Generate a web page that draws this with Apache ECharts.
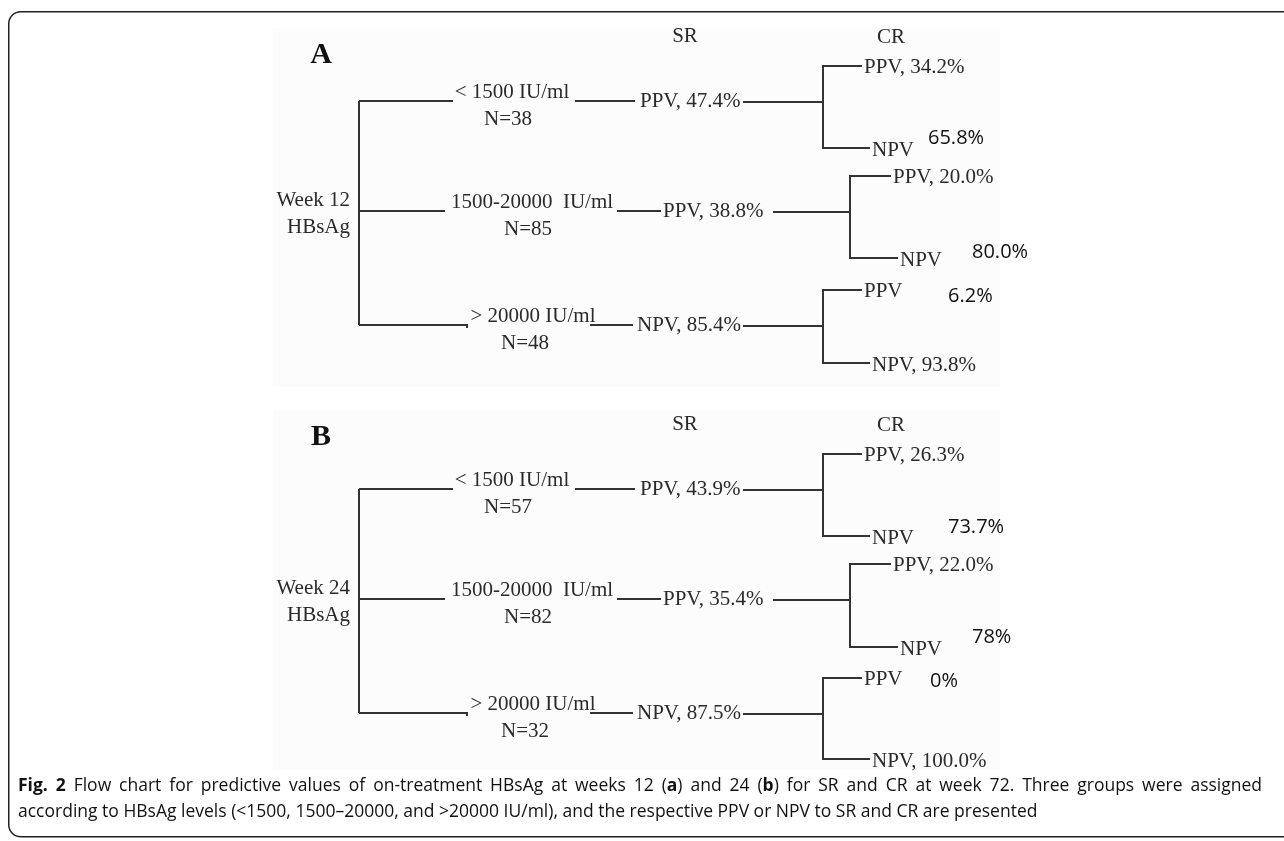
<!DOCTYPE html>
<html>
<head>
<meta charset="utf-8">
<title>Fig. 2 HBsAg flow chart</title>
<script src="https://cdn.jsdelivr.net/npm/echarts@6/dist/echarts.min.js"></script>
<style>
  html, body { margin: 0; padding: 0; background: #fff; }
  #chart { width: 1284px; height: 841px; }
</style>
</head>
<body>
<div id="chart"></div>
<script>
// ---- data ----
const panelLetters = ['A', 'B'];
const timepoints = ['Week 12', 'Week 24'];
const levels = ['< 1500 IU/ml', '1500-20000  IU/ml', '> 20000 IU/ml'];
const nWeek12 = [38, 85, 48];
const nWeek24 = [57, 82, 32];
const srKind = ['PPV', 'PPV', 'NPV'];
const srWeek12 = ['47.4%', '38.8%', '85.4%'];
const srWeek24 = ['43.9%', '35.4%', '87.5%'];
const crPpvWeek12 = ['34.2%', '20.0%', '6.2%'];
const crNpvWeek12 = ['65.8%', '80.0%', '93.8%'];
const crPpvWeek24 = ['26.3%', '22.0%', '0%'];
const crNpvWeek24 = ['73.7%', '78%', '100.0%'];
// which CR value was typed in afterwards as a separate label (0 = PPV, 1 = NPV)
const crPasted = [1, 1, 0];

const captionLines = [
  '{b|Fig.} {b|2} Flow chart for predictive values of on-treatment HBsAg at weeks 12 ({b|a}) and 24 ({b|b}) for SR and CR at week 72. Three groups were assigned',
  'according to HBsAg levels (<1500, 1500\u201320000, and >20000 IU/ml), and the respective PPV or NPV to SR and CR are presented'
];

// ---- layout (axis units = pixels) ----
const panelTop = [0, 388];
const letterY = [55, 49];
const rowY = [101, 211, 325];
const rootX = 359;
const rootEnd = [453, 445, 467];
const levelX = [512, 532, 533];
const nX = [508, 528, 525];
const linkX = [[575, 635], [617, 661], [590, 633]];
const srX = [640, 663, 637];
const srLineX = [743, 773, 743];
const crX = [823, 850, 823];
const crUp = 35;
const crDown = [[47, 47, 38], [47, 48, 46]];
const tipPpv = [862, 891, 862];
const tipNpv = [870, 898, 870];
const pastedX = [[928, 972, 948], [948, 972, 930]];
const pastedDy = [[-10, -6, 6], [-9, -10, 3]];

const SERIF = '"Liberation Serif", "Times New Roman", serif';
const SANS = '"Open Sans", "Noto Sans", sans-serif';
const INK = '#2a2a2a';
const CAP_SIZE = 17.5;

const edges = [];
const labels = [];
function text(x, y, str, opt) {
  labels.push(Object.assign({ x: x, y: y, text: str, align: 'left', font: '21px ' + SERIF, fill: INK }, opt || {}));
}

panelLetters.forEach(function (letter, p) {
  const top = panelTop[p];
  const n = p === 0 ? nWeek12 : nWeek24;
  const sr = p === 0 ? srWeek12 : srWeek24;
  const ppv = p === 0 ? crPpvWeek12 : crPpvWeek24;
  const npv = p === 0 ? crNpvWeek12 : crNpvWeek24;

  text(321, top + letterY[p], letter, { align: 'center', font: 'bold 30px ' + SERIF, fill: '#111' });
  text(685, top + 36, 'SR', { align: 'center' });
  text(891, top + 37, 'CR', { align: 'center' });

  edges.push([[rootX, top + rowY[0]], [rootX, top + rowY[2]]]);
  text(rootX - 9, top + rowY[1] - 11, timepoints[p], { align: 'right' });
  text(rootX - 9, top + rowY[1] + 16, 'HBsAg', { align: 'right' });

  levels.forEach(function (lvl, i) {
    const y = top + rowY[i];
    if (i === 2) {
      edges.push([[rootX, y], [rootEnd[i], y], [rootEnd[i], y + 3]]);
    } else {
      edges.push([[rootX, y], [rootEnd[i], y]]);
    }
    text(levelX[i], y - 9, lvl, { align: 'center' });
    text(nX[i], y + 18, 'N=' + n[i], { align: 'center' });
    edges.push([[linkX[i][0], y], [linkX[i][1], y]]);
    text(srX[i], y, srKind[i] + ', ' + sr[i]);
    edges.push([[srLineX[i], y + 1], [crX[i], y + 1]]);

    const yUp = y - crUp;
    const yDown = y + crDown[p][i];
    edges.push([[tipPpv[i], yUp], [crX[i], yUp], [crX[i], yDown], [tipNpv[i], yDown]]);

    const pasted = { font: '20px ' + SANS, fill: '#111' };
    if (crPasted[i] === 0) {
      text(tipPpv[i] + 2, yUp + 1, 'PPV');
      text(pastedX[p][i], yUp + pastedDy[p][i], ppv[i], pasted);
      text(tipNpv[i] + 2, yDown + 2, 'NPV, ' + npv[i]);
    } else {
      text(tipPpv[i] + 2, yUp + 1, 'PPV, ' + ppv[i]);
      text(tipNpv[i] + 2, yDown + 2, 'NPV');
      text(pastedX[p][i], yDown + pastedDy[p][i], npv[i], pasted);
    }
  });
});

// caption: first line justified to the box width, last line left aligned
const measureCtx = document.createElement('canvas').getContext('2d');
function wordWidth(word) {
  let w = 0;
  word.replace(/\{b\|([^}]*)\}|([^{]+)/g, function (m, bold, plain) {
    const isBold = bold !== undefined;
    measureCtx.font = (isBold ? 'bold ' : '') + CAP_SIZE + 'px ' + SANS;
    w += measureCtx.measureText(isBold ? bold : plain).width;
    return m;
  });
  return w;
}
const captionGraphics = [];
const captionLeft = 18, captionRight = 1262, captionY = [786, 812];
captionLines.forEach(function (line, li) {
  const words = line.split(' ');
  const widths = words.map(wordWidth);
  const total = widths.reduce(function (a, b) { return a + b; }, 0);
  measureCtx.font = CAP_SIZE + 'px ' + SANS;
  let gap = measureCtx.measureText(' ').width;
  if (li < captionLines.length - 1) gap = (captionRight - captionLeft - total) / (words.length - 1);
  let x = captionLeft;
  words.forEach(function (w, wi) {
    captionGraphics.push({
      type: 'text', x: x, y: captionY[li], z: 10,
      style: {
        text: w, fontSize: CAP_SIZE, fontFamily: SANS, fill: '#111', verticalAlign: 'middle',
        rich: { b: { fontWeight: 'bold', fontSize: CAP_SIZE, fontFamily: SANS, fill: '#111' } }
      }
    });
    x += widths[wi] + gap;
  });
});

const chart = echarts.init(document.getElementById('chart'));

const option = {
  animation: false,
  backgroundColor: '#fff',
  grid: { left: 0, right: 0, top: 0, bottom: 0 },
  xAxis: { type: 'value', min: 0, max: 1284, show: false },
  yAxis: { type: 'value', min: 0, max: 841, inverse: true, show: false },
  graphic: [
    // outer frame of the figure box
    { type: 'rect', left: 8, top: 11, z: -10,
      shape: { width: 1400, height: 825, r: 12 },
      style: { fill: '#fff', stroke: '#222', lineWidth: 1.5 } },
    // faint scanned-image background of both panels
    { type: 'rect', left: 273, top: 28, z: -9,
      shape: { width: 727, height: 359 }, style: { fill: '#fcfcfc' } },
    { type: 'rect', left: 273, top: 410, z: -9,
      shape: { width: 727, height: 360 }, style: { fill: '#fcfcfc' } }
  ].concat(captionGraphics),
  series: [
    {
      type: 'custom',
      name: 'edges',
      coordinateSystem: 'cartesian2d',
      silent: true,
      data: edges.map(function (e) { return e[0]; }),
      renderItem: function (params, api) {
        const pts = edges[params.dataIndex].map(function (pt) { return api.coord(pt); });
        return {
          type: 'polyline',
          shape: { points: pts },
          style: { stroke: '#333', lineWidth: 2, fill: null }
        };
      }
    },
    {
      type: 'custom',
      name: 'labels',
      coordinateSystem: 'cartesian2d',
      silent: true,
      data: labels.map(function (l) { return [l.x, l.y]; }),
      renderItem: function (params, api) {
        const l = labels[params.dataIndex];
        const c = api.coord([l.x, l.y]);
        return {
          type: 'text',
          style: {
            x: c[0], y: c[1], text: l.text, font: l.font, fill: l.fill,
            align: l.align, verticalAlign: 'middle'
          }
        };
      }
    }
  ]
};

chart.setOption(option);
</script>
</body>
</html>
